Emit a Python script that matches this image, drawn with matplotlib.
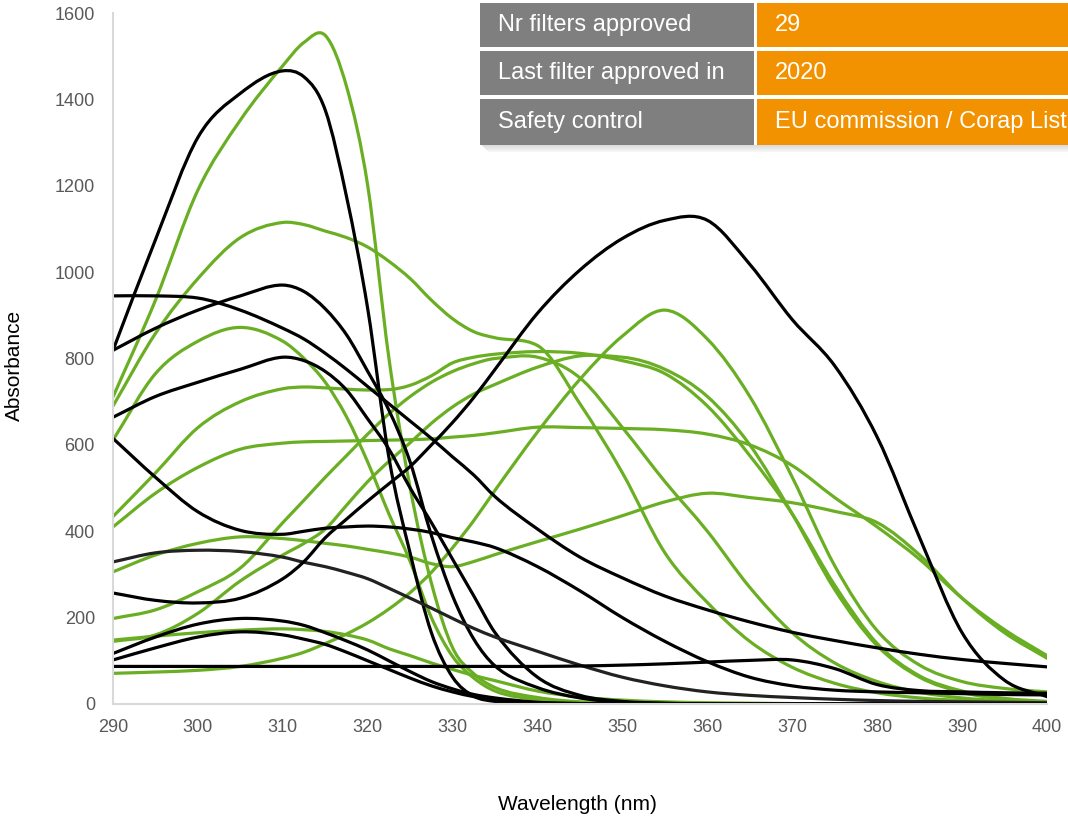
import numpy as np
import matplotlib
matplotlib.use("Agg")
import matplotlib.pyplot as plt
from matplotlib.path import Path
import matplotlib.patches as mpatches

plt.rcParams['font.family'] = ['Liberation Sans', 'DejaVu Sans']

# wavelength grid (nm) the curves were read at
wl = [290, 295, 300, 305, 310, 312.5, 315, 317.5, 320, 322.5, 325, 327.5, 330, 332.5,
      335, 340, 345, 350, 355, 360, 365, 370, 375, 380, 385, 390, 395, 400]

# black curves
k1 = [819, 1075, 1312, 1414, 1466, 1452, 1375, 1175, 915, 570, 349, 165, 62, 18,
      6, 1, 0, 0, 0, 0, 0, 0, 0, 0, 0, 0, 0, 0]
k2 = [945, 945, 940, 912, 870, 845, 812, 775, 735, 695, 655, 615, 572, 530,
      480, 405, 340, 292, 250, 218, 190, 166, 147, 130, 115, 103, 94, 86]
k3 = [819, 870, 912, 945, 970, 955, 915, 855, 770, 680, 560, 390, 250, 150,
      88, 38, 14, 4, 1, 0, 0, 0, 0, 0, 0, 0, 0, 0]
k4 = [664, 712, 745, 775, 803, 795, 770, 727, 660, 590, 500, 420, 335, 250,
      165, 62, 20, 6, 2, 0, 0, 0, 0, 0, 0, 0, 0, 0]
k5 = [257, 240, 234, 245, 290, 330, 385, 428, 470, 510, 550, 600, 652, 710,
      775, 905, 1005, 1078, 1120, 1120, 1018, 890, 783, 618, 385, 165, 55, 17]
k6 = [615, 525, 445, 402, 393, 400, 407, 410, 412, 410, 405, 397, 385, 375,
      362, 318, 262, 200, 145, 98, 62, 42, 32, 28, 26, 24, 22, 21]
k7 = [329, 350, 356, 353, 340, 328, 318, 305, 290, 268, 245, 222, 198, 175,
      155, 122, 90, 62, 42, 28, 20, 15, 11, 8, 6, 5, 4, 3]
k8 = [87, 87, 87, 87, 87, 87, 87, 87, 87, 87, 87, 87, 87, 87,
      87, 87, 88, 90, 93, 97, 101, 102, 82, 45, 31, 28, 26, 25]
k9 = [117, 155, 185, 198, 192, 182, 165, 146, 125, 100, 75, 52, 35, 22,
      14, 4, 1, 0, 0, 0, 0, 0, 0, 0, 0, 0, 0, 0]
k10 = [102, 130, 155, 167, 160, 150, 138, 120, 100, 80, 60, 42, 28, 17,
       10, 3, 1, 0, 0, 0, 0, 0, 0, 0, 0, 0, 0, 0]

# green curves
g1 = [711, 935, 1190, 1352, 1478, 1532, 1548, 1430, 1200, 800, 500, 280, 130, 70,
      38, 15, 5, 2, 1, 0, 0, 0, 0, 0, 0, 0, 0, 0]
g2 = [690, 858, 985, 1080, 1115, 1110, 1095, 1080, 1058, 1025, 985, 935, 892, 862,
      848, 830, 695, 535, 350, 235, 145, 85, 48, 26, 14, 8, 4, 2]
g3 = [611, 765, 840, 872, 840, 800, 745, 665, 560, 440, 330, 200, 110, 60,
      30, 10, 4, 1, 0, 0, 0, 0, 0, 0, 0, 0, 0, 0]
g4 = [434, 535, 640, 700, 730, 734, 732, 729, 727, 728, 738, 760, 790, 803,
      810, 816, 812, 795, 765, 690, 575, 440, 275, 140, 65, 30, 13, 6]
g5 = [410, 488, 548, 590, 604, 607, 608, 609, 610, 611, 612, 614, 618, 622,
      628, 641, 640, 638, 635, 625, 600, 552, 478, 410, 335, 245, 172, 112]
g6 = [306, 345, 372, 387, 383, 378, 372, 366, 358, 350, 340, 325, 318, 330,
      346, 376, 405, 436, 468, 488, 478, 466, 446, 420, 345, 245, 165, 106]
g7 = [198, 218, 260, 315, 420, 472, 525, 575, 625, 672, 712, 745, 770, 788,
      800, 803, 755, 640, 515, 400, 270, 165, 95, 52, 27, 14, 7, 3]
g8 = [148, 157, 165, 171, 174, 172, 168, 160, 148, 128, 112, 95, 80, 66,
      54, 30, 16, 9, 5, 3, 2, 1, 0, 0, 0, 0, 0, 0]
g9 = [71, 74, 78, 87, 106, 120, 140, 162, 188, 220, 258, 305, 362, 425,
      495, 630, 752, 852, 912, 845, 712, 525, 320, 170, 90, 52, 36, 28]
g10 = [145, 160, 210, 285, 345, 372, 405, 460, 515, 562, 605, 650, 688, 718,
       740, 780, 806, 803, 775, 712, 600, 440, 265, 135, 62, 27, 11, 4]

black_series = [k2, k3, k1, k4, k6, k7, k9, k10, k8, k5]
green_series = [g1, g2, g3, g4, g5, g6, g7, g8, g9, g10]

x_ticks = [290, 300, 310, 320, 330, 340, 350, 360, 370, 380, 390, 400]
y_ticks = [0, 200, 400, 600, 800, 1000, 1200, 1400, 1600]

table_rows = [("Nr filters approved", "29"),
              ("Last filter approved in", "2020"),
              ("Safety control", "EU commission / Corap List")]

GREEN = '#6aaf23'
ORANGE = '#f39200'
W, H = 1068, 816


def smooth_path(x, y):
    # smoothed line through the read points (cubic bezier segments)
    x = np.asarray(x, float)
    y = np.asarray(y, float)
    d = np.diff(y) / np.diff(x)
    m = np.zeros_like(y)
    m[0], m[-1] = d[0], d[-1]
    for i in range(1, len(y) - 1):
        m[i] = (d[i - 1] + d[i]) / 2
        lim = 3 * min(abs(d[i - 1]), abs(d[i]))
        if abs(m[i]) > lim and d[i - 1] * d[i] > 0:
            m[i] = np.sign(m[i]) * lim
    verts = [(x[0], y[0])]
    codes = [Path.MOVETO]
    for i in range(len(x) - 1):
        h = x[i + 1] - x[i]
        verts += [(x[i] + h / 3, y[i] + m[i] * h / 3),
                  (x[i + 1] - h / 3, y[i + 1] - m[i + 1] * h / 3),
                  (x[i + 1], y[i + 1])]
        codes += [Path.CURVE4] * 3
    return Path(verts, codes)


fig = plt.figure(figsize=(W / 100, H / 100), dpi=100)
ax = fig.add_axes([113 / W, 1 - 704 / H, (1047 - 113) / W, (704 - 13) / H])

for s in green_series:
    ax.add_patch(mpatches.PathPatch(smooth_path(wl, s), fill=False,
                                    edgecolor=GREEN, lw=2.3, capstyle='round'))
for s in black_series:
    col = '#222222' if s is k7 else 'black'
    ax.add_patch(mpatches.PathPatch(smooth_path(wl, s), fill=False,
                                    edgecolor=col, lw=2.3, capstyle='round'))

ax.set_xlim(290, 400)
ax.set_ylim(0, 1600)
ax.set_xticks(x_ticks)
ax.set_yticks(y_ticks)
ax.tick_params(length=0, labelsize=13, labelcolor='#595959')
ax.tick_params(axis='y', pad=13)
ax.tick_params(axis='x', pad=11)
for sp in ['top', 'right']:
    ax.spines[sp].set_visible(False)
ax.spines['left'].set_color('#d9d9d9')
ax.spines['bottom'].set_color('#d9d9d9')
ax.spines['left'].set_linewidth(1.5)
ax.spines['bottom'].set_linewidth(1.5)

fig.text(577 / W, 1 - 805 / H, 'Wavelength (nm)', ha='center', va='center', fontsize=15)
fig.text(14 / W, 1 - 365 / H, 'Absorbance', ha='center', va='center',
         rotation=90, fontsize=15)


def px_rect(x0, y0, x1, y1, color, alpha=1.0, z=5):
    r = mpatches.Rectangle((x0 / W, 1 - y1 / H), (x1 - x0) / W, (y1 - y0) / H,
                           transform=fig.transFigure, facecolor=color, edgecolor='none',
                           alpha=alpha, zorder=z)
    fig.add_artist(r)


# shadow under the table
for k in range(7):
    px_rect(482 + k, 145 + k, W, 146 + k, '#808080', alpha=0.28 - k * 0.035, z=4)

row_tops = [3, 51, 99]
row_bots = [47, 95, 145]
for (lab, val), t, b in zip(table_rows, row_tops, row_bots):
    px_rect(480, t, 754, b, '#7f7f7f')
    px_rect(757, t, W + 5, b, ORANGE)
    yc = 1 - (t + b) / 2 / H
    fig.text(498 / W, yc, lab, color='white', fontsize=17, va='center', ha='left', zorder=6)
    fig.text(775 / W, yc, val, color='white', fontsize=17, va='center', ha='left', zorder=6)

fig.savefig('out.png', dpi=100)
